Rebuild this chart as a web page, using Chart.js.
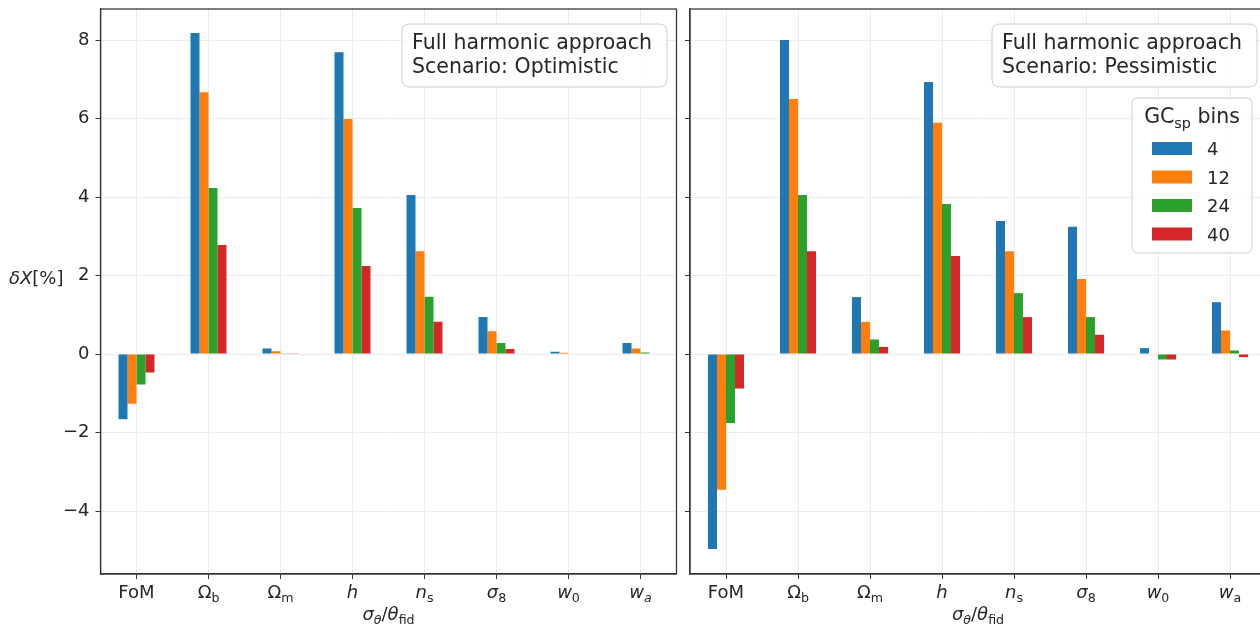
<!DOCTYPE html>
<html><head><meta charset="utf-8">
<script src="https://cdn.jsdelivr.net/npm/chart.js@4.4.1/dist/chart.umd.min.js"></script>
<style>
html,body{margin:0;padding:0;overflow:hidden;background:#fff;width:1260px;height:631px;}
#wrap{position:relative;width:1260px;height:631px;overflow:hidden;}
canvas{position:absolute;top:0;}
#c1{left:0;} #c2{left:680px;}
</style></head><body>
<div id="wrap"><canvas id="c1" width="680" height="631"></canvas><canvas id="c2" width="590" height="631"></canvas></div>
<script>
// ---- data ----
const categories = ['FoM','Ωb','Ωm','h','ns','σ8','w0','wa'];
const binCounts = ['4','12','24','40'];
const binColors = ['#1f77b4','#ff7f0e','#2ca02c','#d62728'];
const optimistic4  = [-1.66, 8.18, 0.14, 7.69, 4.05, 0.94, 0.06, 0.28];
const optimistic12 = [-1.27, 6.67, 0.07, 5.99, 2.62, 0.58, 0.03, 0.14];
const optimistic24 = [-0.78, 4.23, 0.02, 3.72, 1.46, 0.28, 0.01, 0.04];
const optimistic40 = [-0.47, 2.78, 0.005, 2.24, 0.82, 0.13, 0.01, 0.01];
const pessimistic4  = [-4.97, 8.00, 1.45, 6.93, 3.39, 3.24, 0.15, 1.32];
const pessimistic12 = [-3.46, 6.50, 0.82, 5.89, 2.62, 1.91, -0.01, 0.60];
const pessimistic24 = [-1.76, 4.05, 0.37, 3.82, 1.55, 0.94, -0.14, 0.09];
const pessimistic40 = [-0.88, 2.62, 0.18, 2.50, 0.94, 0.49, -0.14, -0.08];
const yMin = -5.605, yMax = 8.79, yStep = 2;

// rich label specs: [text, style] style: '' normal, 'i' italic, 's' subscript, 'si' italic subscript
const labelSpecs = {
  'FoM': [['FoM','']],
  'Ωb': [['Ω',''],['b','s']],
  'Ωm': [['Ω',''],['m','s']],
  'h': [['h','i']],
  'ns': [['n','i'],['s','s']],
  'σ8': [['σ','i'],['8','s']],
  'w0': [['w','i'],['0','s']],
  'wa': [['w','i'],['a','si']]
};
const FONT = '"DejaVu Sans"';
const TXT = '#262626';
Chart.defaults.font.family = FONT;

function fontFor(p, size){
  const sub = p[1].includes('s'), it = p[1].includes('i');
  return (it ? 'italic ' : '') + (sub ? size*0.7 : size) + 'px ' + FONT;
}
function richWidth(ctx, parts, size){
  let w = 0;
  for (const p of parts){ ctx.font = fontFor(p, size); w += ctx.measureText(p[0]).width; }
  return w;
}
function drawRich(ctx, parts, x, y, size, align){
  const w = richWidth(ctx, parts, size);
  let cx = align === 'center' ? x - w/2 : (align === 'right' ? x - w : x);
  ctx.textBaseline = 'alphabetic'; ctx.textAlign = 'left'; ctx.fillStyle = TXT;
  for (const p of parts){
    ctx.font = fontFor(p, size);
    const sub = p[1].includes('s');
    ctx.fillText(p[0], cx, y + (sub ? size*0.22 : 0));
    cx += ctx.measureText(p[0]).width;
  }
  return w;
}
function roundRect(ctx, x, y, w, h, r){
  ctx.beginPath();
  ctx.moveTo(x+r, y); ctx.lineTo(x+w-r, y); ctx.quadraticCurveTo(x+w, y, x+w, y+r);
  ctx.lineTo(x+w, y+h-r); ctx.quadraticCurveTo(x+w, y+h, x+w-r, y+h);
  ctx.lineTo(x+r, y+h); ctx.quadraticCurveTo(x, y+h, x, y+h-r);
  ctx.lineTo(x, y+r); ctx.quadraticCurveTo(x, y, x+r, y); ctx.closePath();
}

function makeDatasets(arrs){
  return arrs.map((a, i) => ({
    label: binCounts[i], data: a, backgroundColor: binColors[i], borderWidth: 0,
    categoryPercentage: 0.5, barPercentage: 1.0
  }));
}

const panelPlugin = {
  id: 'panel',
  afterDraw(chart, args, o){
    const ctx = chart.ctx, ca = chart.chartArea, xs = chart.scales.x;
    ctx.save();
    // frame
    ctx.strokeStyle = '#333'; ctx.lineWidth = 1.25;
    ctx.strokeRect(ca.left, ca.top, ca.right - ca.left, ca.bottom - ca.top);
    // x tick labels
    categories.forEach((c, i) => {
      let spec = labelSpecs[c];
      if (c === 'wa' && !o.waItalic) spec = [['w','i'],['a','s']];
      drawRich(ctx, spec, xs.getPixelForValue(i), ca.bottom + 24, 18, 'center');
    });
    // x title
    drawRich(ctx, [['σ','i'],['θ','si'],['/',''],['θ','i'],['fid','s']], o.titleX, ca.bottom + 46, 18, 'center');
    // y label
    if (o.ylabel){
      drawRich(ctx, [['δX','i'],['[%]','']], 9, 284, 18, 'left');
    }
    // annotation box
    const bx = o.boxX, by = 24, bw = 265, bh = 63;
    roundRect(ctx, bx, by, bw, bh, 8);
    ctx.fillStyle = 'rgba(255,255,255,0.85)'; ctx.fill();
    ctx.strokeStyle = '#cccccc'; ctx.lineWidth = 1; ctx.stroke();
    ctx.fillStyle = TXT; ctx.font = '20.5px ' + FONT; ctx.textAlign = 'left'; ctx.textBaseline = 'alphabetic';
    ctx.fillText('Full harmonic approach', bx + 10, 49);
    ctx.fillText('Scenario: ' + o.scenario, bx + 10, 73);
    // legend
    if (o.legend){
      const lx = o.legendX, ly = 98, lw = 120, lh = 155;
      roundRect(ctx, lx, ly, lw, lh, 6);
      ctx.fillStyle = 'rgba(255,255,255,0.85)'; ctx.fill();
      ctx.strokeStyle = '#cccccc'; ctx.lineWidth = 1; ctx.stroke();
      drawRich(ctx, [['GC',''],['sp','s'],[' bins','']], lx + lw/2, 123, 20.5, 'center');
      chart.data.datasets.forEach((d, i) => {
        const py = 142 + i*28.5;
        ctx.fillStyle = d.backgroundColor;
        ctx.fillRect(lx + 20, py, 40, 13);
        ctx.fillStyle = TXT; ctx.font = '18px ' + FONT; ctx.textAlign = 'left'; ctx.textBaseline = 'alphabetic';
        ctx.fillText(d.label, lx + 75, py + 13);
      });
    }
    ctx.restore();
  }
};

function makeChart(id, arrs, yLabels, padRight, yWidth, opts){
  return new Chart(document.getElementById(id), {
    type: 'bar',
    data: { labels: categories, datasets: makeDatasets(arrs) },
    plugins: [panelPlugin],
    options: {
      responsive: false, animation: false, devicePixelRatio: 1,
      layout: { padding: { left: 0, right: padRight, top: 9, bottom: 0 } },
      plugins: { legend: { display: false }, tooltip: { enabled: false }, panel: opts },
      scales: {
        x: {
          grid: { offset: false, color: '#ececec', tickColor: '#333', tickLength: 5, lineWidth: 1 },
          border: { display: true, color: '#333', width: 1.25 },
          ticks: { display: false },
          afterFit(s){ s.height = 57; s.paddingLeft = 0; s.paddingRight = 0; }
        },
        y: {
          min: yMin, max: yMax,
          grid: { color: '#ececec', tickColor: '#333', tickLength: 5, lineWidth: 1 },
          border: { display: true, color: '#333', width: 1.25 },
          ticks: {
            display: yLabels, stepSize: yStep, includeBounds: false, color: TXT, padding: 6,
            font: { size: 18, family: FONT },
            callback: v => v < 0 ? '\u2212' + Math.abs(v) : String(v)
          },
          afterFit(s){ s.width = yWidth; s.paddingTop = 0; s.paddingBottom = 0; }
        }
      }
    }
  });
}

makeChart('c1', [optimistic4, optimistic12, optimistic24, optimistic40], true, 3.5, 100.5,
  { scenario: 'Optimistic', ylabel: true, legend: false, boxX: 402, titleX: 388.5, waItalic: true });
makeChart('c2', [pessimistic4, pessimistic12, pessimistic24, pessimistic40], false, 4, 10,
  { scenario: 'Pessimistic', ylabel: false, legend: true, boxX: 312, legendX: 452, titleX: 298, waItalic: false });
</script>
</body></html>
